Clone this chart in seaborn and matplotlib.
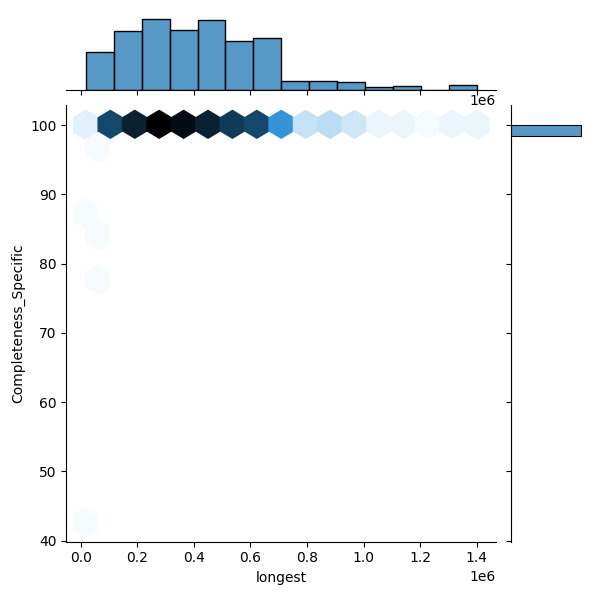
import numpy as np
import pandas as pd
import matplotlib
matplotlib.use("Agg")
import matplotlib.pyplot as plt
import seaborn as sns
from seaborn.utils import set_hls_values

# Genomes with Completeness_Specific == 100: longest contig (in Mb) and how many
longest_mb = [0.040, 0.090, 0.132, 0.180, 0.225, 0.275, 0.317, 0.363, 0.410,
              0.453, 0.502, 0.545, 0.595, 0.638, 0.687, 0.730, 0.780, 0.822,
              0.872, 0.915, 0.965, 1.050, 1.140, 1.193, 1.330, 1.380, 1.400]
counts = [3, 20, 13, 30, 9, 43, 1, 42, 1,
          38, 13, 22, 14, 19, 19, 2, 5, 1,
          6, 1, 5, 2, 2, 1, 2, 1, 1]
complete_value = 100.0

# Less complete genomes
outlier_longest_mb = [0.018, 0.030, 0.060, 0.062, 0.064]
outlier_completeness = [42.7, 87.2, 96.8, 84.0, 77.6]

x = np.concatenate([np.repeat(longest_mb, counts), outlier_longest_mb]) * 1e6
y = np.concatenate([np.full(sum(counts), complete_value), outlier_completeness])
df = pd.DataFrame({"longest": x, "Completeness_Specific": y})

color = "C0"
color_rgb = matplotlib.colors.to_rgb(color)
colors = [set_hls_values(color_rgb, l=l) for l in np.linspace(1, 0, 12)]
cmap = sns.blend_palette(colors, as_cmap=True)

g = sns.JointGrid(data=df, x="longest", y="Completeness_Specific", height=6, ratio=5, space=.2)
g.ax_joint.hexbin(df["longest"], df["Completeness_Specific"], gridsize=16, cmap=cmap)
sns.histplot(data=df, x="longest", bins=14, color=color, ax=g.ax_marg_x)
sns.histplot(data=df, y="Completeness_Specific", bins=37, color=color, ax=g.ax_marg_y)
g.set_axis_labels("longest", "Completeness_Specific")

g.figure.savefig("out.png", dpi=100)
